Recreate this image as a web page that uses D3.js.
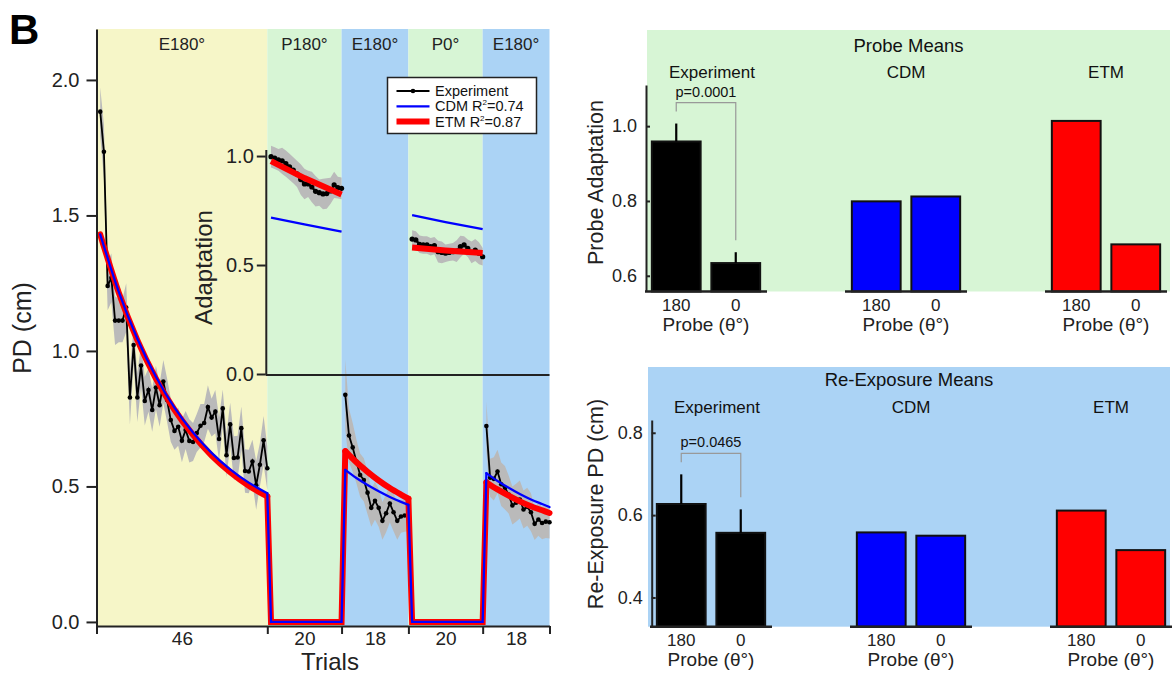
<!DOCTYPE html>
<html>
<head>
<meta charset="utf-8">
<script src="https://cdn.jsdelivr.net/npm/d3@7"></script>
<style>
body { margin: 0; background: #fff; }
svg { font-family: "Liberation Sans", Arial, Helvetica, sans-serif; }
.axis path, .axis line { stroke: #222; stroke-width: 2; }
.axis text { fill: #222; }
</style>
</head>
<body>
<svg id="chart" width="1173" height="675"></svg>
<script>
// Blocks of trials
var segLabels = ['E180°', 'P180°', 'E180°', 'P0°', 'E180°'];
var segTrials = [46, 20, 18, 20, 18];
var segFills = ['#f6f6c8', '#d7f5d5', '#abd3f5', '#d7f5d5', '#abd3f5'];

// Experiment, exposure blocks (PD, cm) and SEM
var expPD1 = [1.883, 1.735, 1.24, 1.27, 1.112, 1.112, 1.112, 1.16, 0.828, 1.022,
    0.828, 0.946, 0.815, 0.856, 0.782, 0.865, 0.80, 0.887, 0.819, 0.745,
    0.705, 0.72, 0.669, 0.708, 0.668, 0.664, 0.697, 0.724, 0.734, 0.793,
    0.754, 0.776, 0.675, 0.788, 0.615, 0.729, 0.605, 0.607, 0.715, 0.557,
    0.555, 0.592, 0.504, 0.58, 0.67, 0.567];
var expPD1Sem = [0.09, 0.10, 0.09, 0.09, 0.09, 0.08, 0.08, 0.09, 0.10, 0.07,
    0.09, 0.08, 0.09, 0.08, 0.08, 0.08, 0.08, 0.08, 0.08, 0.08,
    0.07, 0.07, 0.08, 0.07, 0.08, 0.07, 0.07, 0.08, 0.07, 0.08,
    0.07, 0.08, 0.08, 0.07, 0.08, 0.08, 0.08, 0.08, 0.08, 0.08,
    0.08, 0.08, 0.09, 0.08, 0.09, 0.08];
var expPD3 = [0.838, 0.688, 0.644, 0.592, 0.542, 0.524, 0.477, 0.421, 0.447, 0.421,
    0.373, 0.401, 0.437, 0.405, 0.373, 0.389, 0.393, 0.395];
var expPD3Sem = [0.13, 0.10, 0.09, 0.08, 0.08, 0.08, 0.08, 0.07, 0.07, 0.07,
    0.07, 0.07, 0.07, 0.07, 0.07, 0.06, 0.06, 0.06];
var expPD5 = [0.723, 0.532, 0.528, 0.555, 0.508, 0.495, 0.47, 0.43, 0.44, 0.452,
    0.415, 0.425, 0.405, 0.362, 0.378, 0.365, 0.37, 0.368];
var expPD5Sem = [0.09, 0.07, 0.08, 0.08, 0.08, 0.08, 0.07, 0.07, 0.07, 0.07,
    0.07, 0.07, 0.07, 0.06, 0.06, 0.06, 0.06, 0.06];

// Experiment, probe blocks (adaptation) and SEM
var expAdapt2 = [0.997, 0.99, 0.982, 0.978, 0.965, 0.95, 0.935, 0.918, 0.892, 0.872,
    0.872, 0.858, 0.838, 0.832, 0.826, 0.828, 0.84, 0.868, 0.855, 0.852];
var expAdapt2Sem = [0.05, 0.05, 0.05, 0.06, 0.06, 0.06, 0.06, 0.06, 0.07, 0.07,
    0.06, 0.07, 0.07, 0.06, 0.07, 0.07, 0.06, 0.06, 0.05, 0.05];
var expAdapt4 = [0.619, 0.615, 0.595, 0.592, 0.592, 0.584, 0.589, 0.561, 0.558, 0.554,
    0.558, 0.561, 0.564, 0.584, 0.592, 0.577, 0.558, 0.569, 0.554, 0.538];
var expAdapt4Sem = [0.04, 0.04, 0.04, 0.04, 0.04, 0.04, 0.04, 0.05, 0.05, 0.04,
    0.04, 0.04, 0.05, 0.05, 0.04, 0.04, 0.05, 0.05, 0.05, 0.04];

// Model fits, PD over all trials
var modelTrials = [1, 6, 11, 16, 21, 26, 31, 36, 41, 46, 47, 66,
    67, 70, 73, 76, 79, 82, 84, 85, 104,
    105, 108, 111, 114, 117, 120, 122];
var cdmPD = [1.43, 1.218, 1.045, 0.905, 0.791, 0.699, 0.624, 0.563, 0.514, 0.475, 0, 0,
    0.561, 0.531, 0.505, 0.482, 0.461, 0.443, 0.432, 0, 0,
    0.549, 0.52, 0.495, 0.472, 0.452, 0.435, 0.424];
var etmPD = [1.43, 1.215, 1.04, 0.898, 0.783, 0.69, 0.614, 0.553, 0.503, 0.463, 0, 0,
    0.63, 0.589, 0.554, 0.522, 0.494, 0.47, 0.455, 0, 0,
    0.515, 0.489, 0.466, 0.445, 0.427, 0.412, 0.402];

// Model fits, adaptation in probe blocks
var probeModelTrials = [47, 56, 66, 85, 94, 104];
var cdmAdapt = [0.717, 0.687, 0.653, 0.729, 0.697, 0.665];
var etmAdapt = [0.977, 0.899, 0.824, 0.58, 0.567, 0.555];

// Bar panels
var barGroups = ['Experiment', 'CDM', 'ETM'];
var probeAngles = ['180', '0'];
var probeMeans = [[0.959, 0.634], [0.799, 0.812], [1.014, 0.684]];
var probeErr = [0.048, 0.029];
var reexpMeans = [[0.627, 0.557], [0.558, 0.55], [0.611, 0.515]];
var reexpErr = [0.072, 0.057];
var pTexts = ['p=0.0001', 'p=0.0465'];
var barFills = ['#000000', '#0000ff', '#ff0000'];

var svg = d3.select('#chart');

var bounds = [0];
segTrials.forEach(function (n) { bounds.push(bounds[bounds.length - 1] + n); });

var x = d3.scaleLinear().domain([0, 122]).range([96.5, 549.5]);
var y = d3.scaleLinear().domain([-0.015, 2.188]).range([626, 29]);
var yIn = d3.scaleLinear().domain([0, 1.03]).range([374, 149.5]);

function series(values, sems, start) {
    return values.map(function (v, i) {
        return { t: start + i, v: v, s: sems[i] };
    });
}

var main = svg.append('g');

// Block backgrounds
main.selectAll('rect.block').data(segTrials).enter()
    .append('rect')
    .attr('class', 'block')
    .attr('x', function (d, i) { return x(bounds[i]); })
    .attr('width', function (d, i) { return x(bounds[i + 1]) - x(bounds[i]); })
    .attr('y', y.range()[1])
    .attr('height', y.range()[0] - y.range()[1])
    .attr('fill', function (d, i) { return segFills[i]; });

main.selectAll('text.block').data(segLabels).enter()
    .append('text')
    .attr('x', function (d, i) { return (x(bounds[i]) + x(bounds[i + 1])) / 2; })
    .attr('y', 50)
    .attr('text-anchor', 'middle')
    .style('font-size', '17px')
    .attr('fill', '#222')
    .text(function (d) { return d; });

var exposure = [
    series(expPD1, expPD1Sem, bounds[0] + 1),
    series(expPD3, expPD3Sem, bounds[2] + 1),
    series(expPD5, expPD5Sem, bounds[4] + 1)
];
var probes = [
    series(expAdapt2, expAdapt2Sem, bounds[1] + 1),
    series(expAdapt4, expAdapt4Sem, bounds[3] + 1)
];

function drawExperiment(g, data, ys, r, w) {
    var band = d3.area()
        .x(function (d) { return x(d.t); })
        .y0(function (d) { return ys(d.v - d.s); })
        .y1(function (d) { return ys(d.v + d.s); });
    var line = d3.line()
        .x(function (d) { return x(d.t); })
        .y(function (d) { return ys(d.v); });
    data.forEach(function (seg) {
        g.append('path').datum(seg).attr('d', band).attr('fill', '#bababa');
    });
    data.forEach(function (seg) {
        g.append('path').datum(seg).attr('d', line)
            .attr('fill', 'none').attr('stroke', '#000').attr('stroke-width', w);
        g.selectAll(null).data(seg).enter().append('circle')
            .attr('cx', function (d) { return x(d.t); })
            .attr('cy', function (d) { return ys(d.v); })
            .attr('r', r)
            .attr('fill', '#000');
    });
}

drawExperiment(main, exposure, y, 2.3, 1.8);

// Models across all trials: smooth in exposure blocks, straight into and out of probes
var smoothLine = d3.line()
    .x(function (d) { return x(d.t); })
    .y(function (d) { return y(d.v); })
    .curve(d3.curveMonotoneX);
var straightLine = d3.line()
    .x(function (d) { return x(d.t); })
    .y(function (d) { return y(d.v); });

function drawModel(vals, color, width) {
    var pts = modelTrials.map(function (t, i) { return { t: t, v: vals[i] }; });
    [0, 2, 4].forEach(function (s) {
        main.append('path')
            .datum(pts.filter(function (d) { return d.t > bounds[s] && d.t <= bounds[s + 1]; }))
            .attr('d', smoothLine)
            .attr('fill', 'none').attr('stroke', color).attr('stroke-width', width)
            .attr('stroke-linecap', 'round');
    });
    [1, 3].forEach(function (s) {
        main.append('path')
            .datum(pts.filter(function (d) { return d.t >= bounds[s] && d.t <= bounds[s + 1] + 1; }))
            .attr('d', straightLine)
            .attr('fill', 'none').attr('stroke', color).attr('stroke-width', width)
            .attr('stroke-linecap', 'round').attr('stroke-linejoin', 'miter');
    });
}
drawModel(etmPD, '#ff0000', 6);
drawModel(cdmPD, '#0000ff', 2.3);

// Inset: probe adaptation
var inset = svg.append('g');
drawExperiment(inset, probes, yIn, 2.6, 2.2);

var inLine = d3.line()
    .x(function (d) { return x(d.t); })
    .y(function (d) { return yIn(d.v); });
[1, 3].forEach(function (s) {
    var pick = function (vals) {
        return probeModelTrials.map(function (t, i) { return { t: t, v: vals[i] }; })
            .filter(function (d) { return d.t > bounds[s] && d.t <= bounds[s + 1]; });
    };
    inset.append('path').datum(pick(cdmAdapt)).attr('d', inLine)
        .attr('fill', 'none').attr('stroke', '#0000ff').attr('stroke-width', 2.3);
    inset.append('path').datum(pick(etmAdapt)).attr('d', inLine)
        .attr('fill', 'none').attr('stroke', '#ff0000').attr('stroke-width', 6);
});

var insetX = x(bounds[1]) - 1.5;
inset.append('g').attr('class', 'axis')
    .attr('transform', 'translate(' + insetX + ',0)')
    .call(d3.axisLeft(yIn).tickValues([0, 0.5, 1]).tickFormat(d3.format('.1f'))
        .tickSizeInner(9).tickSizeOuter(0).tickPadding(3))
    .selectAll('text').style('font-size', '20px');
inset.append('line')
    .attr('x1', insetX).attr('x2', x(122))
    .attr('y1', yIn(0) + 1).attr('y2', yIn(0) + 1)
    .attr('stroke', '#222').attr('stroke-width', 2);
inset.append('text')
    .attr('transform', 'translate(212,267.5) rotate(-90)')
    .attr('text-anchor', 'middle')
    .style('font-size', '24px').attr('fill', '#222')
    .text('Adaptation');

// Main axes
main.append('g').attr('class', 'axis')
    .attr('transform', 'translate(' + x(0) + ',0)')
    .call(d3.axisLeft(y).tickValues([0, 0.5, 1, 1.5, 2]).tickFormat(d3.format('.1f'))
        .tickSizeInner(10).tickSizeOuter(0).tickPadding(7))
    .selectAll('text').style('font-size', '20px');
main.append('g').attr('class', 'axis')
    .attr('transform', 'translate(0,' + y.range()[0] + ')')
    .call(d3.axisBottom(x).tickValues(bounds).tickFormat('')
        .tickSizeInner(8).tickSizeOuter(0));
var mids = segTrials.map(function (n, i) { return bounds[i] + n / 2; });
var lab = main.append('g').attr('class', 'axis')
    .attr('transform', 'translate(0,' + y.range()[0] + ')')
    .call(d3.axisBottom(x).tickValues(mids)
        .tickFormat(function (d, i) { return segTrials[i]; })
        .tickSize(0).tickPadding(6));
lab.select('.domain').remove();
lab.selectAll('text').style('font-size', '19px');

main.append('text')
    .attr('x', 330).attr('y', 670)
    .attr('text-anchor', 'middle')
    .style('font-size', '24px').attr('fill', '#222')
    .text('Trials');
main.append('text')
    .attr('transform', 'translate(31,328) rotate(-90)')
    .attr('text-anchor', 'middle')
    .style('font-size', '25px').attr('fill', '#222')
    .text('PD (cm)');

// Legend
var legend = svg.append('g').attr('transform', 'translate(387.5,77.5)');
legend.append('rect').attr('width', 149).attr('height', 56)
    .attr('fill', '#fff').attr('stroke', '#222').attr('stroke-width', 1.5);
var legItems = [
    { name: 'Experiment', r2: null, color: '#000', w: 1.8 },
    { name: 'CDM R', r2: '=0.74', color: '#0000ff', w: 2.3 },
    { name: 'ETM R', r2: '=0.87', color: '#ff0000', w: 6 }
];
legItems.forEach(function (d, i) {
    var ly = 13.5 + i * 15.3;
    legend.append('line').attr('x1', 9).attr('x2', 42).attr('y1', ly).attr('y2', ly)
        .attr('stroke', d.color).attr('stroke-width', d.w);
    if (i === 0) {
        legend.append('circle').attr('cx', 25.5).attr('cy', ly).attr('r', 2.3).attr('fill', '#000');
    }
    var t = legend.append('text').attr('x', 47.5).attr('y', ly + 5)
        .style('font-size', '14.5px').attr('fill', '#111').text(d.name);
    if (d.r2) {
        t.append('tspan').attr('dy', -6).style('font-size', '8px').text('2');
        t.append('tspan').attr('dy', 6).text(d.r2);
    }
});

svg.append('text').attr('x', 9).attr('y', 44)
    .style('font-size', '42px').style('font-weight', 'bold').attr('fill', '#000')
    .text('B');

// Bar panels
function barPanel(opt) {
    var g = svg.append('g');
    g.append('rect')
        .attr('x', opt.bg[0]).attr('y', opt.bg[1])
        .attr('width', opt.bg[2] - opt.bg[0]).attr('height', opt.bg[3] - opt.bg[1])
        .attr('fill', opt.fill);

    var ys = d3.scaleLinear().domain(opt.domain).range([opt.base, opt.top]);
    var gx = d3.scaleBand().domain(barGroups).range(opt.groupRange).paddingInner(0.39);
    var px = d3.scaleBand().domain(probeAngles).range([0, gx.bandwidth()])
        .paddingInner(0.18).paddingOuter(0.115);

    g.append('text')
        .attr('x', (opt.bg[0] + opt.bg[2]) / 2).attr('y', opt.titleY)
        .attr('text-anchor', 'middle').style('font-size', '18.5px').attr('fill', '#111')
        .text(opt.title);

    barGroups.forEach(function (name, gi) {
        var gg = g.append('g').attr('transform', 'translate(' + gx(name) + ',0)');
        gg.append('text')
            .attr('x', gx.bandwidth() / 2 + (gi === 0 ? 6 : 0)).attr('y', opt.subY)
            .attr('text-anchor', 'middle').style('font-size', '17px').attr('fill', '#111')
            .text(name);
        gg.selectAll('rect').data(opt.means[gi]).enter().append('rect')
            .attr('x', function (d, i) { return px(probeAngles[i]); })
            .attr('width', px.bandwidth())
            .attr('y', function (d) { return ys(d); })
            .attr('height', function (d) { return opt.base - ys(d); })
            .attr('fill', barFills[gi])
            .attr('stroke', '#111').attr('stroke-width', 2);
        gg.append('line')
            .attr('x1', 0).attr('x2', gx.bandwidth())
            .attr('y1', opt.base).attr('y2', opt.base)
            .attr('stroke', '#222').attr('stroke-width', 2.5);
        gg.selectAll('text.tick').data(probeAngles).enter().append('text')
            .attr('class', 'tick')
            .attr('x', function (d) { return px(d) + px.bandwidth() / 2; })
            .attr('y', opt.base + 19)
            .attr('text-anchor', 'middle').style('font-size', '17px').attr('fill', '#222')
            .text(function (d) { return d; });
        gg.append('text')
            .attr('x', gx.bandwidth() / 2).attr('y', opt.base + 39)
            .attr('text-anchor', 'middle').style('font-size', '19px').attr('fill', '#222')
            .text('Probe (θ°)');

        if (gi === 0) {
            var tops = opt.means[0].map(function (v, i) { return v + opt.err[i]; });
            var cx = probeAngles.map(function (d) { return px(d) + px.bandwidth() / 2; });
            gg.selectAll('line.err').data(tops).enter().append('line')
                .attr('class', 'err')
                .attr('x1', function (d, i) { return cx[i]; })
                .attr('x2', function (d, i) { return cx[i]; })
                .attr('y1', function (d, i) { return ys(opt.means[0][i]); })
                .attr('y2', function (d) { return ys(d); })
                .attr('stroke', '#000').attr('stroke-width', 2.2);
            var by = ys(d3.max(tops)) - 21;
            gg.append('path')
                .attr('d', 'M' + cx[0] + ',' + (ys(tops[0]) - 12) + 'V' + by +
                    'H' + cx[1] + 'V' + (ys(tops[1]) - 12))
                .attr('fill', 'none').attr('stroke', '#999').attr('stroke-width', 1.2);
            gg.append('text')
                .attr('x', (cx[0] + cx[1]) / 2).attr('y', by - 6)
                .attr('text-anchor', 'middle').style('font-size', '14.5px').attr('fill', '#111')
                .text(opt.p);
        }
    });

    g.append('g').attr('class', 'axis')
        .attr('transform', 'translate(' + opt.axisX + ',0)')
        .call(d3.axisLeft(ys).tickValues(opt.ticks).tickFormat(d3.format('.1f'))
            .tickSizeInner(-4).tickSizeOuter(0).tickPadding(9))
        .selectAll('text').style('font-size', '18px');

    g.append('text')
        .attr('transform', 'translate(602.5,' + opt.labelY + ') rotate(-90)')
        .attr('text-anchor', 'middle').style('font-size', '21.5px').attr('fill', '#222')
        .text(opt.label);
}

barPanel({
    bg: [647, 30, 1170, 291.5], fill: '#d7f5d5',
    domain: [0.558, 1.11], base: 291.5, top: 85, axisX: 646,
    groupRange: [645, 1167], ticks: [0.6, 0.8, 1.0],
    means: probeMeans, err: probeErr, p: pTexts[0],
    title: 'Probe Means', titleY: 52, subY: 77.5,
    label: 'Probe Adaptation', labelY: 182.5
});
barPanel({
    bg: [648, 367, 1170, 626.7], fill: '#abd3f5',
    domain: [0.329, 0.831], base: 626.7, top: 420, axisX: 651.7,
    groupRange: [650, 1172], ticks: [0.4, 0.6, 0.8],
    means: reexpMeans, err: reexpErr, p: pTexts[1],
    title: 'Re-Exposure Means', titleY: 386, subY: 413.3,
    label: 'Re-Exposure PD (cm)', labelY: 504
});
</script>
</body>
</html>
